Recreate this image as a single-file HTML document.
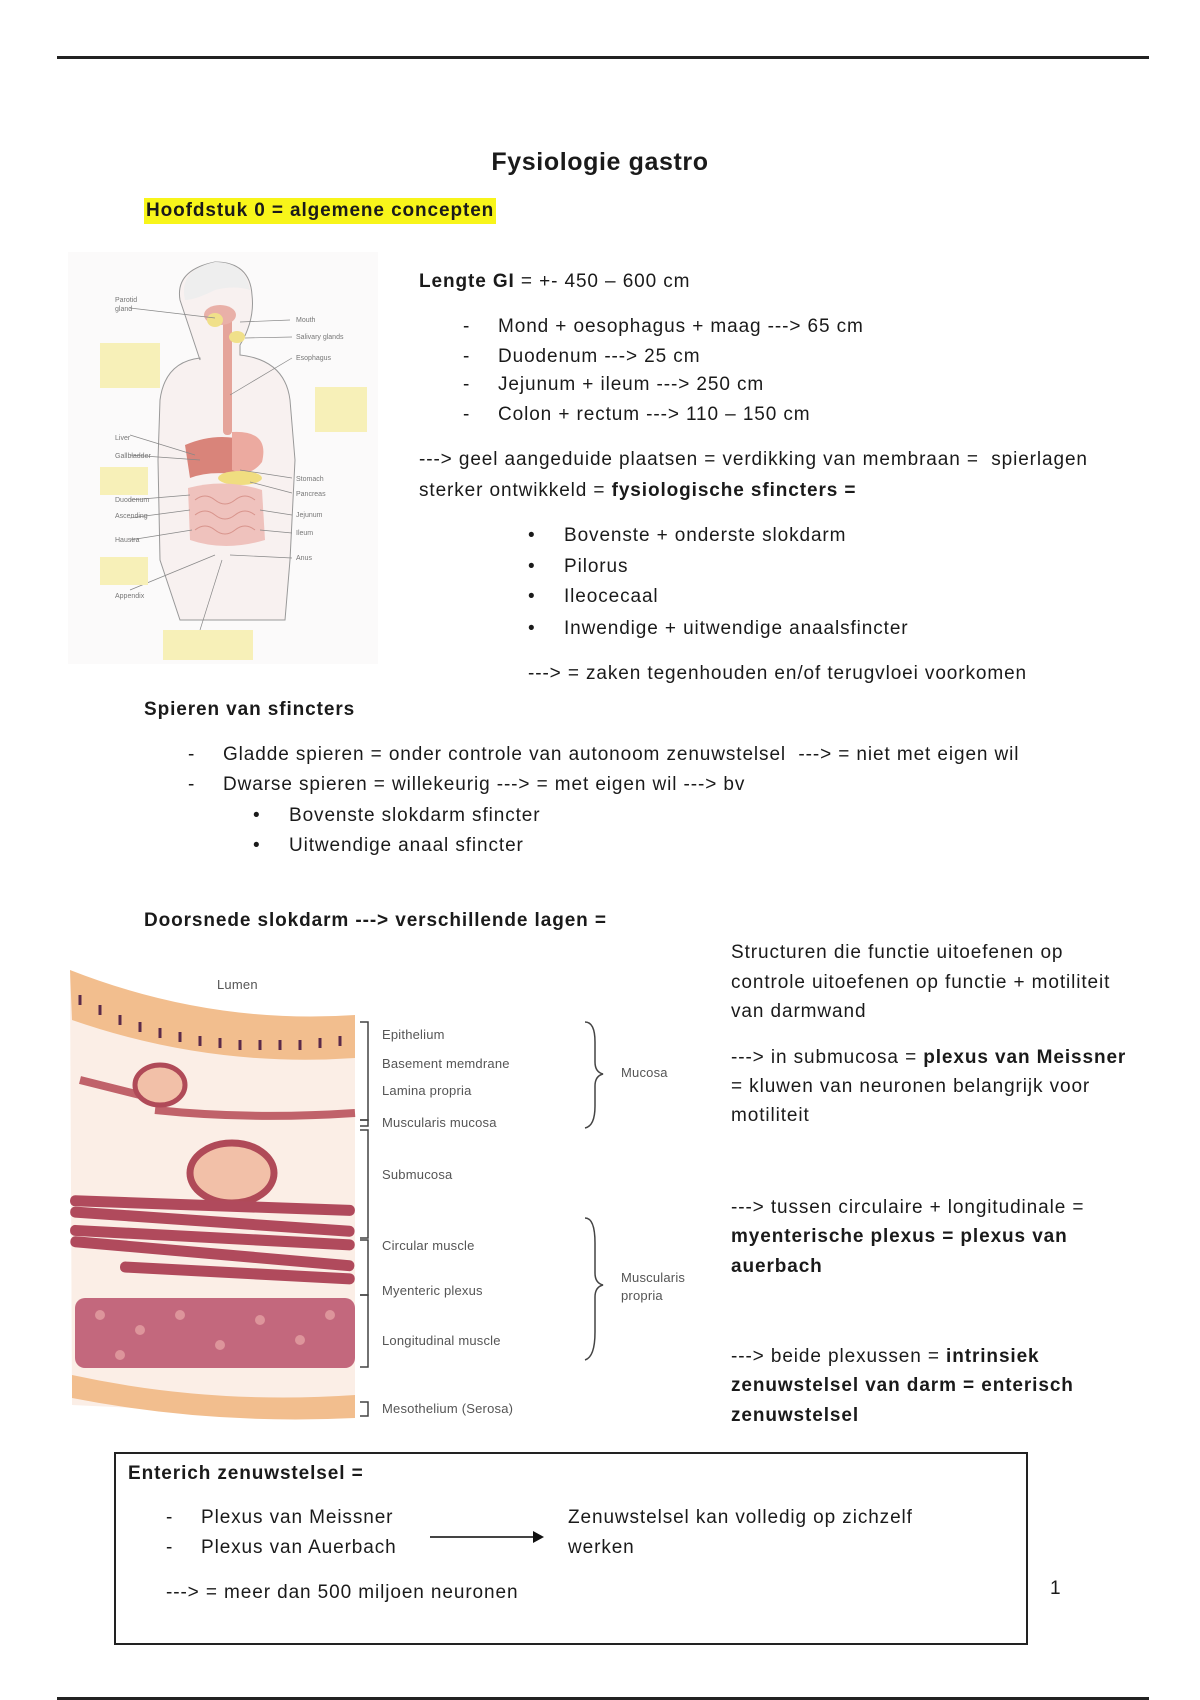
<!DOCTYPE html>
<html><head><meta charset="utf-8">
<style>
html,body{margin:0;padding:0;background:#fff;}
body{width:1200px;height:1700px;position:relative;overflow:hidden;font-family:"Liberation Sans",sans-serif;color:#1a1a1a;}
.t{position:absolute;font-size:19px;line-height:22px;white-space:nowrap;letter-spacing:0.9px;}
.b{font-weight:bold;}
</style></head><body>
<div style="position:absolute;left:57px;top:56px;width:1092px;height:3px;background:#222"></div>
<div style="position:absolute;left:57px;top:1697px;width:1092px;height:3px;background:#222"></div>

<div class="t b" style="left:0;width:1200px;text-align:center;top:148px;font-size:25px;line-height:28px;letter-spacing:0.6px;">Fysiologie gastro</div>
<div class="t b" style="left:144px;top:198px;background:#f8f51a;padding:2px 2px;">Hoofdstuk 0 = algemene concepten</div>

<!-- body figure -->
<svg style="position:absolute;left:65px;top:250px" width="320" height="420" viewBox="65 250 320 420">
<rect x="68" y="252" width="310" height="412" fill="#fbfafa"/>
<path d="M200 360 Q190 330 180 300 Q175 270 215 262 Q250 262 252 295 Q255 320 240 345 L240 355 Q285 360 290 400 L295 460 L290 560 L285 620 L180 620 L160 560 L158 460 L160 400 Q165 362 200 358 Z" fill="#f8f1f0" stroke="#999" stroke-width="1"/>
<path d="M185 300 Q178 270 215 262 Q245 262 250 290 Q235 285 215 290 Q195 300 185 300Z" fill="#eee"/>
<rect x="223" y="310" width="9" height="125" rx="4" fill="#e5a49a"/>
<ellipse cx="220" cy="315" rx="16" ry="10" fill="#e9b0a8"/>
<ellipse cx="215" cy="320" rx="8" ry="7" fill="#f0e08a"/>
<ellipse cx="237" cy="337" rx="8" ry="6" fill="#f0e08a"/>
<path d="M185 445 Q215 432 245 440 L242 475 Q210 470 190 478 Z" fill="#d9847a"/>
<path d="M232 432 Q270 430 262 462 Q250 478 232 470 Z" fill="#ecaaa0"/>
<ellipse cx="240" cy="478" rx="22" ry="7" fill="#f0dd80"/>
<path d="M188 488 Q225 478 262 490 L265 540 Q225 552 190 540 Z" fill="#efc2bd"/>
<path d="M195 500 q10 -8 20 0 q10 8 20 0 q10 -8 20 0 M195 515 q10 -8 20 0 q10 8 20 0 q10 -8 20 0 M195 530 q10 -8 20 0 q10 8 20 0 q10 -8 20 0" stroke="#d8948c" fill="none"/>
<g stroke="#888" stroke-width="0.7">
<line x1="130" y1="308" x2="215" y2="318"/><line x1="240" y1="322" x2="290" y2="320"/><line x1="245" y1="338" x2="292" y2="337"/><line x1="230" y1="395" x2="292" y2="358"/>
<line x1="130" y1="435" x2="195" y2="455"/><line x1="130" y1="455" x2="200" y2="460"/><line x1="240" y1="470" x2="292" y2="478"/><line x1="250" y1="482" x2="292" y2="493"/>
<line x1="260" y1="510" x2="292" y2="515"/><line x1="260" y1="530" x2="292" y2="533"/><line x1="230" y1="555" x2="292" y2="558"/>
<line x1="130" y1="500" x2="190" y2="495"/><line x1="130" y1="518" x2="190" y2="510"/><line x1="130" y1="540" x2="192" y2="530"/><line x1="130" y1="590" x2="215" y2="555"/><line x1="200" y1="630" x2="222" y2="560"/>
</g>
<g fill="#f7f0b8"><rect x="100" y="343" width="60" height="45"/><rect x="315" y="387" width="52" height="45"/><rect x="100" y="467" width="48" height="28"/><rect x="100" y="557" width="48" height="28"/><rect x="163" y="630" width="90" height="30"/></g>
<g font-family="Liberation Sans" font-size="7" fill="#777">
<text x="115" y="302">Parotid</text><text x="115" y="311">gland</text>
<text x="296" y="322">Mouth</text><text x="296" y="339">Salivary glands</text><text x="296" y="360">Esophagus</text>
<text x="115" y="440">Liver</text><text x="115" y="458">Gallbladder</text><text x="115" y="502">Duodenum</text><text x="115" y="518">Ascending</text><text x="115" y="542">Haustra</text><text x="115" y="598">Appendix</text>
<text x="296" y="481">Stomach</text><text x="296" y="496">Pancreas</text><text x="296" y="517">Jejunum</text><text x="296" y="535">Ileum</text><text x="296" y="560">Anus</text>
</g>
</svg>

<div class="t" style="left:419px;top:271px;"><b>Lengte GI</b> = +- 450 – 600 cm</div>
<div class="t" style="left:463px;top:316px;">-</div><div class="t" style="left:498px;top:316px;">Mond + oesophagus + maag ---&gt; 65 cm</div>
<div class="t" style="left:463px;top:346px;">-</div><div class="t" style="left:498px;top:346px;">Duodenum ---&gt; 25 cm</div>
<div class="t" style="left:463px;top:374px;">-</div><div class="t" style="left:498px;top:374px;">Jejunum + ileum ---&gt; 250 cm</div>
<div class="t" style="left:463px;top:404px;">-</div><div class="t" style="left:498px;top:404px;">Colon + rectum ---&gt; 110 – 150 cm</div>
<div class="t" style="left:419px;top:449px;">---&gt; geel aangeduide plaatsen = verdikking van membraan =&nbsp; spierlagen</div>
<div class="t" style="left:419px;top:480px;">sterker ontwikkeld = <b>fysiologische sfincters =</b></div>
<div class="t" style="left:528px;top:525px;">•</div><div class="t" style="left:564px;top:525px;">Bovenste + onderste slokdarm</div>
<div class="t" style="left:528px;top:556px;">•</div><div class="t" style="left:564px;top:556px;">Pilorus</div>
<div class="t" style="left:528px;top:586px;">•</div><div class="t" style="left:564px;top:586px;">Ileocecaal</div>
<div class="t" style="left:528px;top:618px;">•</div><div class="t" style="left:564px;top:618px;">Inwendige + uitwendige anaalsfincter</div>
<div class="t" style="left:528px;top:663px;">---&gt; = zaken tegenhouden en/of terugvloei voorkomen</div>

<div class="t b" style="left:144px;top:699px;">Spieren van sfincters</div>
<div class="t" style="left:188px;top:744px;">-</div><div class="t" style="left:223px;top:744px;">Gladde spieren = onder controle van autonoom zenuwstelsel&nbsp; ---&gt; = niet met eigen wil</div>
<div class="t" style="left:188px;top:774px;">-</div><div class="t" style="left:223px;top:774px;">Dwarse spieren = willekeurig ---&gt; = met eigen wil ---&gt; bv</div>
<div class="t" style="left:253px;top:805px;">•</div><div class="t" style="left:289px;top:805px;">Bovenste slokdarm sfincter</div>
<div class="t" style="left:253px;top:835px;">•</div><div class="t" style="left:289px;top:835px;">Uitwendige anaal sfincter</div>

<div class="t b" style="left:144px;top:910px;">Doorsnede slokdarm ---&gt; verschillende lagen =</div>

<!-- cross-section -->
<svg style="position:absolute;left:60px;top:940px" width="640" height="490" viewBox="60 940 640 490">
<path d="M70 975 Q210 1030 355 1020 L355 1418 L72 1405 Z" fill="#fbeee6"/>
<path d="M70 970 Q210 1025 355 1015 L355 1058 Q210 1068 72 1020 Z" fill="#f2be8e"/>
<g stroke="#5a2a4a" stroke-width="3">
<line x1="80" y1="995" x2="80" y2="1005"/><line x1="100" y1="1005" x2="100" y2="1015"/><line x1="120" y1="1015" x2="120" y2="1025"/><line x1="140" y1="1022" x2="140" y2="1032"/><line x1="160" y1="1028" x2="160" y2="1038"/><line x1="180" y1="1032" x2="180" y2="1042"/><line x1="200" y1="1036" x2="200" y2="1046"/><line x1="220" y1="1038" x2="220" y2="1048"/><line x1="240" y1="1040" x2="240" y2="1050"/><line x1="260" y1="1040" x2="260" y2="1050"/><line x1="280" y1="1040" x2="280" y2="1050"/><line x1="300" y1="1040" x2="300" y2="1050"/><line x1="320" y1="1038" x2="320" y2="1048"/><line x1="340" y1="1036" x2="340" y2="1046"/>
</g>
<path d="M80 1080 Q140 1095 160 1100 M155 1110 Q250 1120 355 1113" stroke="#c0626a" stroke-width="8" fill="none"/>
<ellipse cx="160" cy="1085" rx="25" ry="20" fill="#f2c0a8" stroke="#b04a58" stroke-width="5"/>
<ellipse cx="232" cy="1173" rx="42" ry="30" fill="#f2c0a8" stroke="#b04a58" stroke-width="7"/>
<g fill="#b04a5c">
<rect x="70" y="1200" width="285" height="11" rx="5" transform="rotate(2 210 1205)"/><rect x="70" y="1216" width="285" height="11" rx="5" transform="rotate(4 210 1220)"/><rect x="70" y="1232" width="285" height="11" rx="5" transform="rotate(3 210 1236)"/><rect x="70" y="1248" width="285" height="11" rx="5" transform="rotate(5 210 1252)"/><rect x="120" y="1266" width="235" height="11" rx="5" transform="rotate(3 210 1270)"/>
</g>
<g fill="#b8506a"><rect x="75" y="1298" width="280" height="70" rx="10" opacity="0.85"/></g>
<g fill="#e9a8a8" opacity="0.7"><circle cx="100" cy="1315" r="5"/><circle cx="140" cy="1330" r="5"/><circle cx="180" cy="1315" r="5"/><circle cx="220" cy="1345" r="5"/><circle cx="260" cy="1320" r="5"/><circle cx="300" cy="1340" r="5"/><circle cx="330" cy="1315" r="5"/><circle cx="120" cy="1355" r="5"/></g>
<path d="M72 1375 Q210 1405 355 1395 L355 1418 Q210 1425 72 1398 Z" fill="#f2be8e"/>
<g stroke="#444" stroke-width="1.5" fill="none">
<path d="M360 1022 h8 v98 h-8"/><path d="M360 1120 h8 v6 h-8"/><path d="M360 1130 h8 v108 h-8"/><path d="M360 1240 h8 v55 h-8"/><path d="M360 1295 h8 v72 h-8"/><path d="M360 1402 h8 v14 h-8"/>
<path d="M585 1022 q10 0 10 20 v20 q0 10 8 12 q-8 2 -8 12 v20 q0 20 -10 22"/>
<path d="M585 1218 q10 0 10 25 v30 q0 10 8 12 q-8 2 -8 12 v35 q0 25 -10 28"/>
</g>
<g font-family="Liberation Sans" font-size="13" fill="#555" letter-spacing="0.2">
<text x="217" y="989">Lumen</text>
<text x="382" y="1039">Epithelium</text><text x="382" y="1068">Basement memdrane</text><text x="382" y="1095">Lamina propria</text><text x="382" y="1127">Muscularis mucosa</text><text x="382" y="1179">Submucosa</text><text x="382" y="1250">Circular muscle</text><text x="382" y="1295">Myenteric plexus</text><text x="382" y="1345">Longitudinal muscle</text><text x="382" y="1413">Mesothelium (Serosa)</text>
<text x="621" y="1077">Mucosa</text><text x="621" y="1282">Muscularis</text><text x="621" y="1300">propria</text>
</g>
</svg>

<div class="t" style="left:731px;top:942px;">Structuren die functie uitoefenen op</div>
<div class="t" style="left:731px;top:972px;">controle uitoefenen op functie + motiliteit</div>
<div class="t" style="left:731px;top:1001px;">van darmwand</div>
<div class="t" style="left:731px;top:1047px;">---&gt; in submucosa = <b>plexus van Meissner</b></div>
<div class="t" style="left:731px;top:1076px;">= kluwen van neuronen belangrijk voor</div>
<div class="t" style="left:731px;top:1105px;">motiliteit</div>
<div class="t" style="left:731px;top:1197px;">---&gt; tussen circulaire + longitudinale =</div>
<div class="t b" style="left:731px;top:1226px;">myenterische plexus = plexus van</div>
<div class="t b" style="left:731px;top:1256px;">auerbach</div>
<div class="t" style="left:731px;top:1346px;">---&gt; beide plexussen = <b>intrinsiek</b></div>
<div class="t b" style="left:731px;top:1375px;">zenuwstelsel van darm = enterisch</div>
<div class="t b" style="left:731px;top:1405px;">zenuwstelsel</div>

<div style="position:absolute;left:114px;top:1452px;width:910px;height:189px;border:2px solid #222;"></div>
<div class="t b" style="left:128px;top:1463px;">Enterich zenuwstelsel =</div>
<div class="t" style="left:166px;top:1507px;">-</div><div class="t" style="left:201px;top:1507px;">Plexus van Meissner</div>
<div class="t" style="left:166px;top:1537px;">-</div><div class="t" style="left:201px;top:1537px;">Plexus van Auerbach</div>
<div style="position:absolute;left:430px;top:1536px;width:105px;height:2px;background:#444;"></div>
<div style="position:absolute;left:533px;top:1531px;width:0;height:0;border-left:11px solid #111;border-top:6px solid transparent;border-bottom:6px solid transparent;"></div>
<div class="t" style="left:568px;top:1507px;">Zenuwstelsel kan volledig op zichzelf</div>
<div class="t" style="left:568px;top:1537px;">werken</div>
<div class="t" style="left:166px;top:1582px;">---&gt; = meer dan 500 miljoen neuronen</div>
<div class="t" style="left:1050px;top:1578px;">1</div>
</body></html>
